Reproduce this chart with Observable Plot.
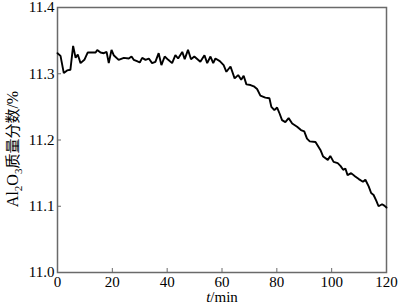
<!DOCTYPE html>
<html>
<head>
<meta charset="utf-8">
<script src="https://cdn.jsdelivr.net/npm/d3@7"></script>
<script src="https://cdn.jsdelivr.net/npm/@observablehq/plot@0.6"></script>
<style>
body { margin: 0; background: #fff; }
svg text { font-family: "Liberation Serif", "Times New Roman", Times, "DejaVu Serif", serif !important; }
svg text tspan.cjk { font-family: "Noto Sans CJK SC", sans-serif !important; }
</style>
</head>
<body>
<div id="chart"></div>
<script>
const timeMin = [0, 1.1, 2.3, 3.5, 4.7, 5.7, 6.6, 7.4, 8.4, 9.8, 11, 13.9, 14.5, 15.7, 16.9, 17.9, 18.7, 19.7, 20.5, 22.3, 24.2, 26, 27, 27.8, 29, 30, 30.9, 32.1, 33.3, 34.5, 35.7, 36.9, 37.9, 39.1, 40.4, 41.8, 43, 44, 45.5, 46.4, 47.6, 48.7, 49.9, 52.1, 53.6, 54.6, 55.8, 56.8, 57.6, 59.2, 60.6, 61.6, 63.1, 64.6, 65.9, 67, 67.9, 68.9, 70.4, 71.6, 72.8, 74, 75.8, 77.3, 78, 79.1, 80.1, 81, 81.9, 83.1, 84.3, 85.6, 87.4, 88.8, 90, 91, 92, 94.1, 95.9, 96.9, 98.6, 99.5, 100.7, 102.2, 103.2, 104.2, 105, 105.8, 107.1, 108.6, 109.9, 111.4, 112.3, 113.5, 114.4, 115.3, 116.3, 117.1, 118.4, 119.2, 120];
const al2o3 = [11.331, 11.327, 11.301, 11.305, 11.306, 11.342, 11.324, 11.329, 11.316, 11.321, 11.332, 11.332, 11.336, 11.332, 11.331, 11.333, 11.316, 11.336, 11.328, 11.321, 11.324, 11.323, 11.326, 11.321, 11.319, 11.317, 11.324, 11.321, 11.323, 11.316, 11.318, 11.331, 11.313, 11.326, 11.321, 11.316, 11.328, 11.323, 11.333, 11.322, 11.336, 11.322, 11.326, 11.318, 11.328, 11.316, 11.326, 11.316, 11.323, 11.319, 11.313, 11.303, 11.311, 11.293, 11.298, 11.291, 11.297, 11.284, 11.283, 11.281, 11.277, 11.267, 11.264, 11.263, 11.250, 11.245, 11.249, 11.240, 11.230, 11.227, 11.233, 11.225, 11.220, 11.215, 11.213, 11.202, 11.198, 11.197, 11.185, 11.175, 11.170, 11.176, 11.167, 11.165, 11.161, 11.155, 11.157, 11.147, 11.150, 11.145, 11.141, 11.137, 11.140, 11.130, 11.120, 11.117, 11.108, 11.100, 11.103, 11.101, 11.098];
const xTicks = [0, 20, 40, 60, 80, 100, 120];
const yTicks = [11.0, 11.1, 11.2, 11.3, 11.4];

const data = timeMin.map((t, i) => ({t, v: al2o3[i]}));

const chart = Plot.plot({
  width: 400,
  height: 306,
  marginLeft: 57,
  marginRight: 14,
  marginTop: 7,
  marginBottom: 34,
  style: {fontSize: "15px", color: "#000", background: "#fff", overflow: "visible"},
  x: {domain: [0, 120]},
  y: {domain: [11.0, 11.4]},
  marks: [
    Plot.frame({stroke: "#6a6a6a", strokeWidth: 1.5}),
    Plot.axisX({ticks: xTicks, tickSize: -4, tickPadding: 8, tickFormat: d => String(d), label: null, stroke: "#6a6a6a", strokeOpacity: 1, fontSize: 15, fill: "#000"}),
    Plot.axisY({ticks: yTicks, tickSize: -4, tickPadding: 7, tickFormat: d => d.toFixed(1), label: null, stroke: "#6a6a6a", strokeOpacity: 1, fontSize: 15, fill: "#000"}),
    Plot.line(data, {x: "t", y: "v", stroke: "#000", strokeWidth: 1.9, strokeLinejoin: "miter"})
  ]
});

document.getElementById("chart").appendChild(chart);

const svg = d3.select(chart);
// x-axis label
const xl = svg.append("text")
  .attr("x", 222).attr("y", 302)
  .attr("text-anchor", "middle")
  .attr("font-size", 15)
  .attr("fill", "#000");
xl.append("tspan").attr("font-style", "italic").text("t");
xl.append("tspan").text("/min");

// y-axis label
const yl = svg.append("text")
  .attr("transform", "translate(18,149) rotate(-90)")
  .attr("text-anchor", "middle")
  .attr("font-size", 16)
  .attr("fill", "#000");
yl.append("tspan").text("Al");
yl.append("tspan").attr("font-size", 11).attr("dy", 4).text("2");
yl.append("tspan").attr("dy", -4).text("O");
yl.append("tspan").attr("font-size", 11).attr("dy", 4).text("3");
yl.append("tspan").attr("class", "cjk").attr("dy", -4).attr("font-size", 15).text("质量分数");
yl.append("tspan").text("/%");
</script>
</body>
</html>
